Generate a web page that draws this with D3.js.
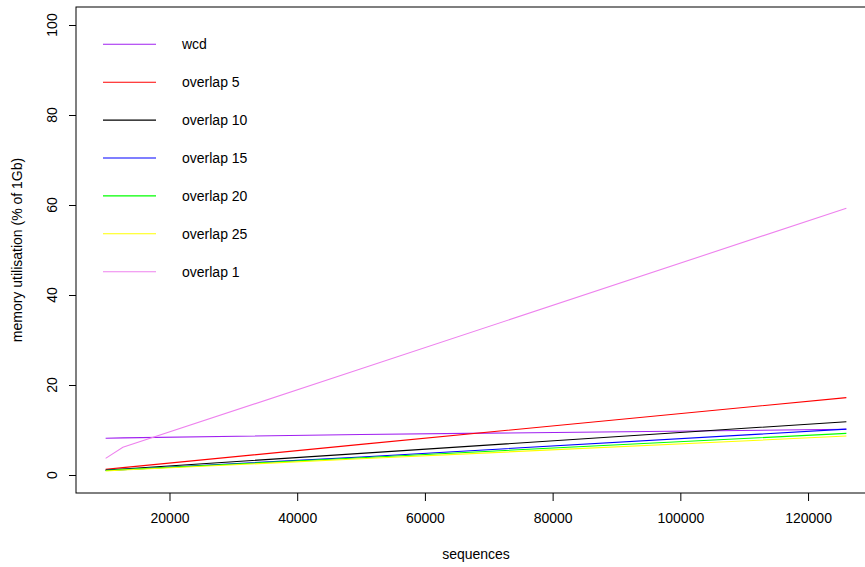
<!DOCTYPE html>
<html><head><meta charset="utf-8">
<script src="https://cdn.jsdelivr.net/npm/d3@7"></script>
<style>body{margin:0;background:#fff}svg{display:block}text{font-family:"Liberation Sans",Arial,sans-serif}</style>
</head><body><svg id="c" width="865" height="567"></svg>
<script>
const sequences = [10000, 12700, 50000, 126000];
const wcd       = [8.15, 8.25, 9.0, 10.15];
const overlap5  = [1.27, 1.64, 6.8, 17.2];
const overlap10 = [1.1, 1.35, 4.8, 11.85];
const overlap15 = [1.0, 1.2, 4.0, 10.2];
const overlap20 = [1.0, 1.2, 3.85, 9.25];
const overlap25 = [0.9, 1.1, 3.6, 8.65];
const overlap1  = [3.7, 6.15, 23.6, 59.3];
const seriesNames = ["wcd","overlap 5","overlap 10","overlap 15","overlap 20","overlap 25","overlap 1"];
const seriesColors = ["#A020F0","#FF0000","#000000","#0000FF","#00FF00","#FFFF00","#EE82EE"];
const seriesValues = [wcd, overlap5, overlap10, overlap15, overlap20, overlap25, overlap1];
const xTicks = [20000, 40000, 60000, 80000, 100000, 120000];
const yTicks = [0, 20, 40, 60, 80, 100];

const svg = d3.select("#c");
const L = 76, R = 876, T = 7, B = 493;
const x = d3.scaleLinear().domain([5360, 130640]).range([L, R]);
const y = d3.scaleLinear().domain([-4, 104]).range([B, T]);

// lines
const line = d3.line().x((d,i)=>x(sequences[i])).y(d=>y(d));
seriesValues.forEach((vals, k) => {
  svg.append("path").datum(vals).attr("d", line)
    .attr("fill","none").attr("stroke", seriesColors[k]).attr("stroke-width", 1.1);
});

// box
svg.append("rect").attr("x",L).attr("y",T).attr("width",R-L).attr("height",B-T)
  .attr("fill","none").attr("stroke","#000").attr("stroke-width",1);

// axes
const xa = svg.append("g").attr("transform",`translate(0,${B})`)
  .call(d3.axisBottom(x).tickValues(xTicks).tickFormat(d3.format("d")).tickSize(8).tickPadding(12));
xa.select(".domain").remove();
xa.selectAll("text").attr("font-size","14px").attr("font-family","Liberation Sans, Arial, sans-serif").attr("fill","#000");

const ya = svg.append("g").attr("transform",`translate(${L},0)`)
  .call(d3.axisLeft(y).tickValues(yTicks).tickSize(7));
ya.select(".domain").remove();
ya.selectAll("text").remove();
yTicks.forEach(t => {
  svg.append("text").attr("transform",`translate(57,${y(t)}) rotate(-90)`)
    .attr("text-anchor","middle").attr("font-size","14px").attr("fill","#000").text(t);
});

// axis labels
svg.append("text").attr("x", (L+R)/2).attr("y", 559).attr("text-anchor","middle")
  .attr("font-size","14px").text("sequences");
svg.append("text").attr("transform",`translate(22,${(T+B)/2}) rotate(-90)`)
  .attr("text-anchor","middle").attr("font-size","14px").text("memory utilisation (% of 1Gb)");

// legend
seriesNames.forEach((n,k) => {
  const yy = 44.3 + k*37.9;
  svg.append("line").attr("x1",103).attr("x2",156).attr("y1",yy).attr("y2",yy)
    .attr("stroke",seriesColors[k]).attr("stroke-width",1.1);
  svg.append("text").attr("x",182).attr("y",yy).attr("dy","0.35em")
    .attr("font-size","14px").text(n);
});
</script></body></html>
